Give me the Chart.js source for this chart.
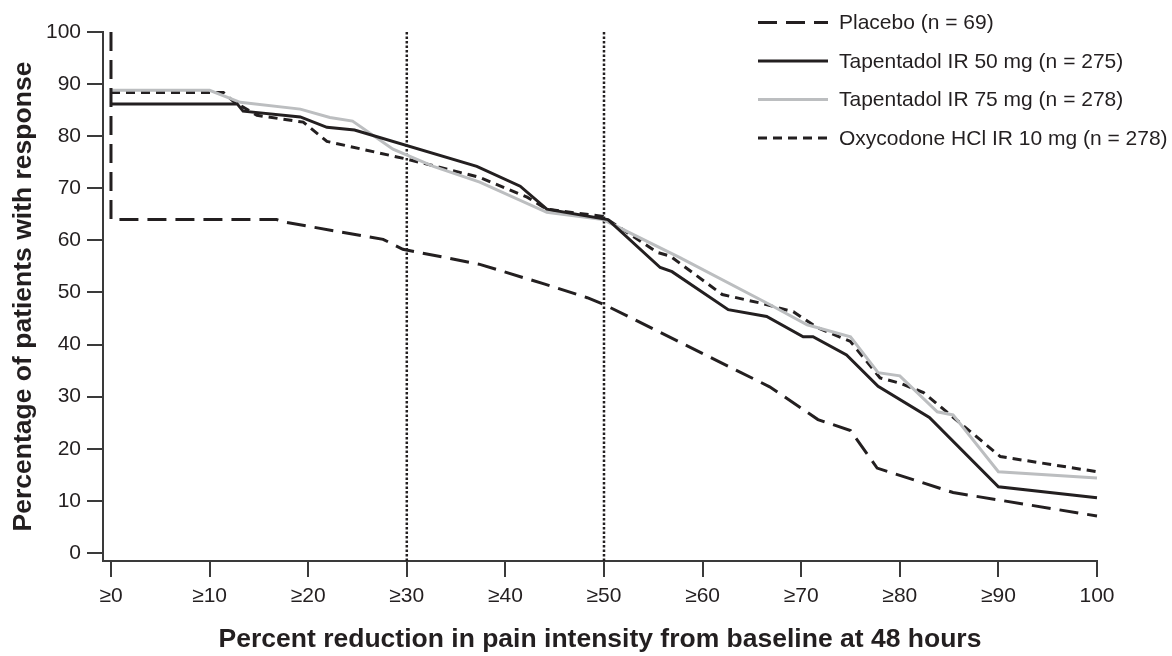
<!DOCTYPE html>
<html>
<head>
<meta charset="utf-8">
<script src="https://cdn.jsdelivr.net/npm/chart.js@4"></script>
<style>
  html, body { margin: 0; padding: 0; background: #fff; }
  canvas { display: block; }
</style>
</head>
<body>
<canvas id="responseChart" width="1172" height="656"></canvas>
<script>
// x = % reduction in pain intensity, y = % of patients with response
const xTickValues = [0, 10, 20, 30, 40, 50, 60, 70, 80, 90, 100];
const xTickLabels = ['≥0', '≥10', '≥20', '≥30', '≥40', '≥50', '≥60', '≥70', '≥80', '≥90', '100'];
const yTickValues = [0, 10, 20, 30, 40, 50, 60, 70, 80, 90, 100];

const placeboX = [0, 0, 16.8, 17.6, 27.6, 29.6, 37.4, 44, 48.3, 50, 66.8, 71.7, 75, 77.7, 85.4, 100];
const placeboY = [100, 64, 64, 63.5, 60.2, 58.3, 55.4, 51.6, 49, 47.7, 31.9, 25.6, 23.5, 16.3, 11.6, 7.1];

const tap50X = [0, 12.8, 13.4, 19.2, 21.9, 24.7, 37.1, 41.5, 44.2, 50.4, 55.7, 56.9, 62.6, 66.5, 70.2, 71.2, 74.6, 77.8, 83, 90, 100];
const tap50Y = [86.2, 86.2, 84.8, 83.7, 81.7, 81.2, 74.2, 70.4, 66, 64, 54.8, 54, 46.7, 45.4, 41.5, 41.5, 38, 32, 26, 12.7, 10.6];

const tap75X = [0, 10, 13.1, 19.2, 22.2, 24.5, 28.6, 32.7, 37.4, 44.2, 49.9, 57.7, 66.8, 70.6, 75, 77.8, 80, 83.8, 85.4, 90, 100];
const tap75Y = [88.8, 88.8, 86.5, 85.2, 83.6, 82.9, 77.5, 74.2, 71.2, 65.4, 64, 56.7, 47.7, 43.8, 41.5, 34.6, 34, 27.1, 26.5, 15.6, 14.4];

const oxyX = [0, 11.4, 12.4, 14.8, 19.5, 21.9, 30, 37.4, 42.2, 44.2, 49.9, 55.4, 56.7, 62, 65.8, 69.2, 71.6, 75, 78, 80, 82.4, 90.2, 100];
const oxyY = [88.4, 88.4, 86.7, 84, 82.7, 79, 75.6, 72.1, 68.3, 66, 64.6, 57.7, 57, 49.6, 48, 46.3, 43.3, 40.6, 33.6, 32.6, 30.8, 18.5, 15.6];

const seriesLabels = ['Placebo (n = 69)', 'Tapentadol IR 50 mg (n = 275)', 'Tapentadol IR 75 mg (n = 278)', 'Oxycodone HCl IR 10 mg (n = 278)'];
const cutoffs = [30, 50];

const xMin = -0.81;
const yMin = -1.54;
const FONT = "'Liberation Sans', Arial, Helvetica, sans-serif";
const INK = '#231f20';

function pts(xs, ys) {
    return xs.map((x, i) => ({x: x, y: ys[i]}));
}

const lineBase = {
    pointRadius: 0,
    pointHoverRadius: 0,
    tension: 0,
    fill: false,
    clip: false,
    borderJoinStyle: 'miter',
    borderCapStyle: 'butt'
};

const datasets = [
    {...lineBase, label: seriesLabels[0], data: pts(placeboX, placeboY), borderColor: INK, borderWidth: 3, borderDash: [19, 9]},
    {...lineBase, label: seriesLabels[1], data: pts(tap50X, tap50Y), borderColor: INK, borderWidth: 3},
    {...lineBase, label: seriesLabels[2], data: pts(tap75X, tap75Y), borderColor: '#bcbec0', borderWidth: 3},
    {...lineBase, label: seriesLabels[3], data: pts(oxyX, oxyY), borderColor: INK, borderWidth: 3, borderDash: [9, 6]}
];

cutoffs.forEach(c => {
    datasets.push({
        ...lineBase,
        label: 'cutoff',
        data: [{x: c, y: 100}, {x: c, y: yMin}],
        borderColor: INK,
        borderWidth: 2.5,
        borderDash: [2.5, 2]
    });
});

// legend drawn in the top right corner, above the plot
const cornerLegend = {
    id: 'cornerLegend',
    afterDraw(chart) {
        const ctx = chart.ctx;
        ctx.save();
        ctx.font = '21px ' + FONT;
        ctx.textBaseline = 'middle';
        ctx.textAlign = 'left';
        for (let i = 0; i < 4; i++) {
            const ds = chart.data.datasets[i];
            const y = 22.5 + i * 38.5;
            ctx.beginPath();
            ctx.strokeStyle = ds.borderColor;
            ctx.lineWidth = ds.borderWidth;
            ctx.setLineDash(ds.borderDash || []);
            ctx.moveTo(758, y);
            ctx.lineTo(828, y);
            ctx.stroke();
            ctx.setLineDash([]);
            ctx.fillStyle = INK;
            ctx.fillText(ds.label, 839, y + 1);
        }
        ctx.restore();
    }
};

new Chart(document.getElementById('responseChart').getContext('2d'), {
    type: 'line',
    data: {datasets: datasets},
    options: {
        responsive: false,
        animation: false,
        devicePixelRatio: 1,
        layout: {padding: {top: 32, right: 75, bottom: 0, left: 0}},
        plugins: {legend: {display: false}, tooltip: {enabled: false}},
        scales: {
            x: {
                type: 'linear',
                min: xMin,
                max: 100,
                afterBuildTicks: s => { s.ticks = xTickValues.map(v => ({value: v})); },
                afterFit: s => { s.height = 95; },
                ticks: {
                    autoSkip: false,
                    maxRotation: 0,
                    padding: 7,
                    color: INK,
                    font: {family: FONT, size: 21},
                    callback: (v, i) => xTickLabels[i]
                },
                grid: {drawOnChartArea: false, drawTicks: true, tickLength: 16, color: '#3a3a3a', lineWidth: 2},
                border: {display: true, color: '#3a3a3a', width: 2},
                title: {
                    display: true,
                    text: 'Percent reduction in pain intensity from baseline at 48 hours',
                    color: INK,
                    font: {family: FONT, size: 26.5, weight: 'bold'},
                    padding: {top: 0, bottom: 0}
                }
            },
            y: {
                type: 'linear',
                min: yMin,
                max: 100,
                afterBuildTicks: s => { s.ticks = yTickValues.map(v => ({value: v})); },
                afterFit: s => { s.width = 103; },
                ticks: {
                    padding: 6,
                    color: INK,
                    font: {family: FONT, size: 21}
                },
                grid: {drawOnChartArea: false, drawTicks: true, tickLength: 16, color: '#3a3a3a', lineWidth: 2},
                border: {display: true, color: '#3a3a3a', width: 2},
                title: {
                    display: true,
                    text: 'Percentage of patients with response',
                    color: INK,
                    font: {family: FONT, size: 26.5, weight: 'bold'},
                    padding: {top: 8, bottom: 0}
                }
            }
        }
    },
    plugins: [cornerLegend]
});
</script>
</body>
</html>
